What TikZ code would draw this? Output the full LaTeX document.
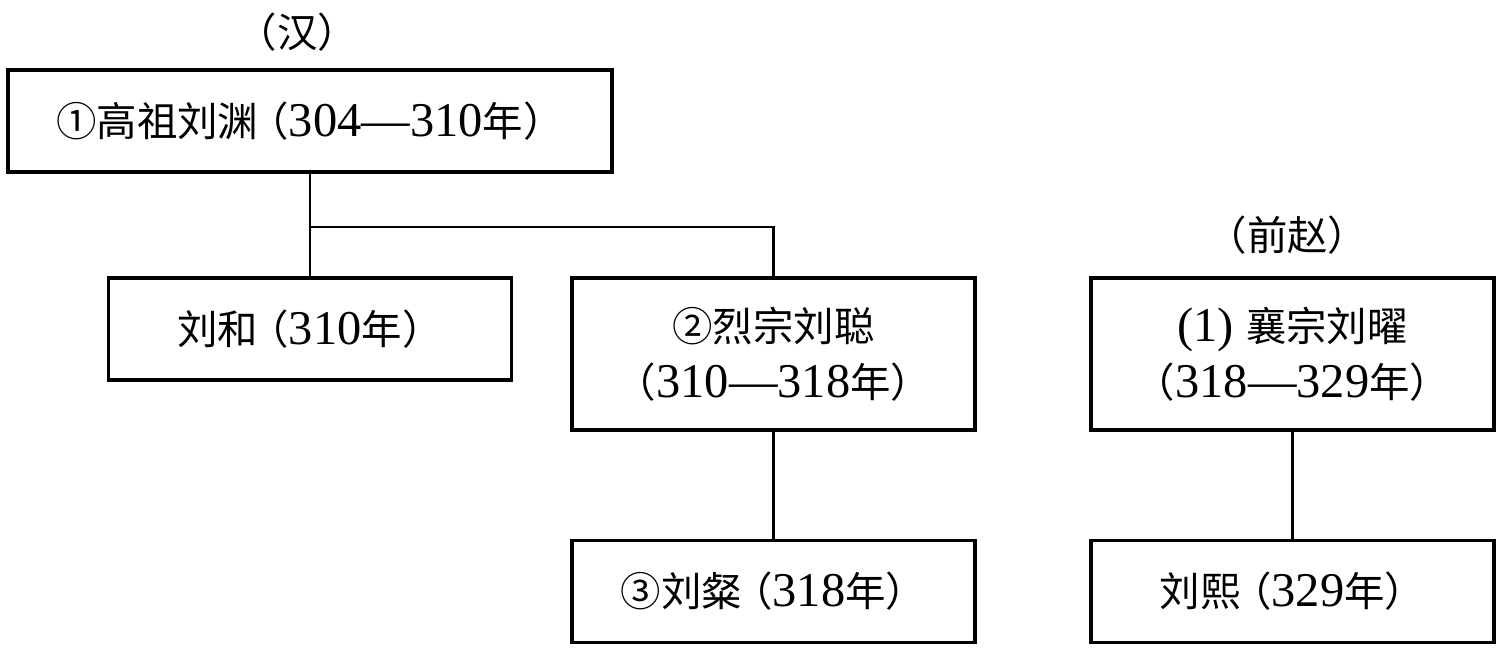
\documentclass[tikz,border=0pt]{standalone}
\usepackage{fontspec}
\setmainfont{Liberation Serif}[Scale=1.2]
\newfontfamily\cjk{Noto Sans CJK SC}
\newcommand{\zh}[1]{{\cjk #1}}
\newcommand{\lp}{\hspace{-0.2em}\zh{（}}
\tikzset{
  famblock/.style={draw, line width=2.2pt, rectangle, minimum width=8.06cm,
    minimum height=2.04cm, align=center, inner sep=0pt,
    font=\fontsize{23}{32}\selectfont},
  dynasty/.style={font=\fontsize{23}{32}\selectfont, inner sep=0pt},
  link/.style={line width=1.6pt}
}
\begin{document}
\begin{tikzpicture}[scale=1, transform shape]
  \useasboundingbox (0,0) rectangle (30,13.04);
  \node[dynasty] (han) at (5.95,12.4) {\zh{（汉）}};
  \node[dynasty] (qianzhao) at (25.75,8.34) {\zh{（前赵）}};
  \node[famblock, minimum width=12.08cm] (yuan) at (6.2,10.62)
    {\zh{①高祖刘渊}\lp 304—310\zh{年）}};
  \node[famblock] (he) at (6.2,6.46) {\zh{刘和}\lp 310\zh{年）}};
  \node[famblock, minimum height=3.04cm] (cong) at (15.47,5.96)
    {\zh{②烈宗刘聪}\\\zh{（}310—318\zh{年）}};
  \node[famblock] (can) at (15.47,1.21) {\zh{③刘粲}\lp 318\zh{年）}};
  \node[famblock, minimum height=3.04cm] (yao) at (25.85,5.96)
    {(1)\hspace{0.25em}\zh{襄宗刘曜}\\\zh{（}318—329\zh{年）}};
  \node[famblock] (xi) at (25.85,1.21) {\zh{刘熙}\lp 329\zh{年）}};
  \coordinate (fork) at (6.2,8.5);
  \draw[link] (yuan.south) -- (he.north);
  \draw[link] (fork) -| (cong.north);
  \draw[link] (cong.south) -- (can.north);
  \draw[link] (yao.south) -- (xi.north);
\end{tikzpicture}
\end{document}
